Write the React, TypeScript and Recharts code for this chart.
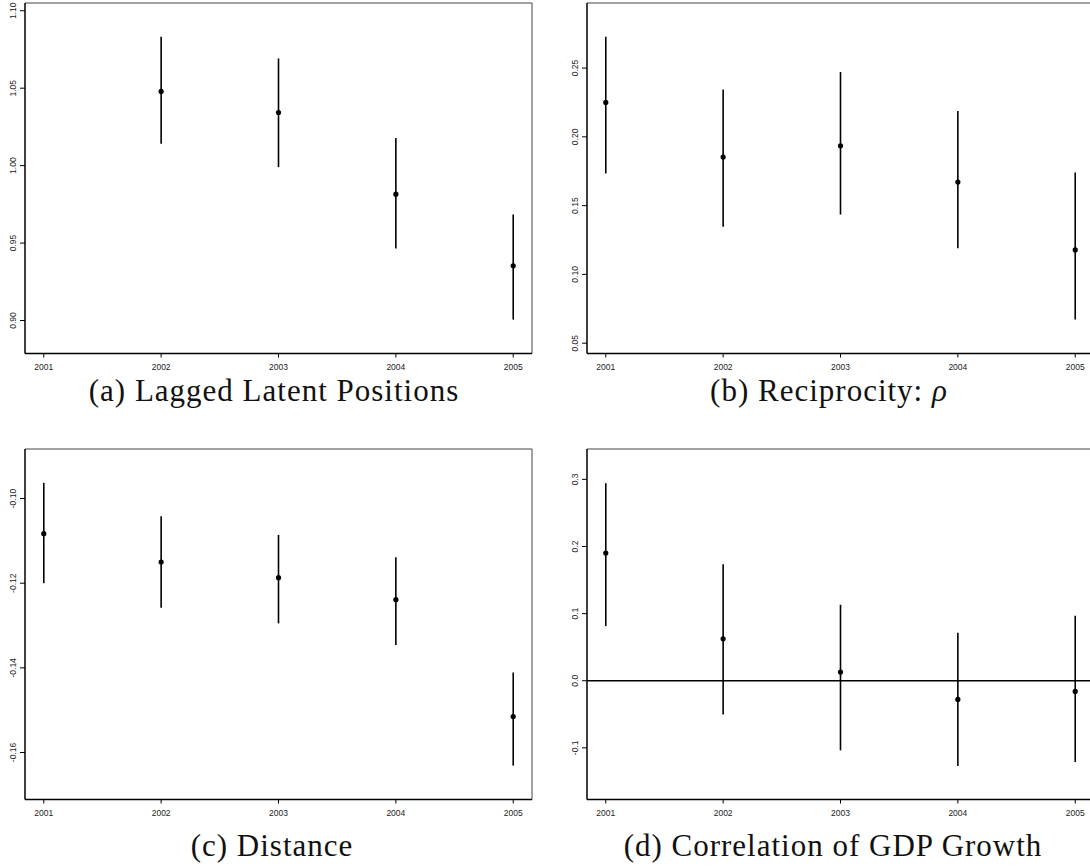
import React from "react";
import {
  ScatterChart,
  Scatter,
  XAxis,
  YAxis,
  ErrorBar,
  ReferenceLine,
} from "recharts";

// ---------- data ----------
const years = [2001, 2002, 2003, 2004, 2005];
const yearLabels = ["2001", "2002", "2003", "2004", "2005"];

// (a) Lagged Latent Positions (no 2001)
const lagYears = [2002, 2003, 2004, 2005];
const lagEst = [1.0479, 1.0343, 0.9816, 0.9353];
const lagLo = [1.0141, 0.999, 0.9465, 0.9006];
const lagHi = [1.0832, 1.0692, 1.0178, 0.9685];
const lagTicks = [0.9, 0.95, 1.0, 1.05, 1.1];
const lagTickLabels = ["0.90", "0.95", "1.00", "1.05", "1.10"];

// (b) Reciprocity
const recEst = [0.225, 0.1853, 0.1935, 0.1671, 0.1178];
const recLo = [0.1734, 0.1346, 0.1435, 0.1191, 0.0672];
const recHi = [0.2728, 0.2345, 0.2471, 0.2187, 0.1741];
const recTicks = [0.05, 0.1, 0.15, 0.2, 0.25];
const recTickLabels = ["0.05", "0.10", "0.15", "0.20", "0.25"];

// (c) Distance
const disEst = [-0.1083, -0.115, -0.1187, -0.1239, -0.1515];
const disLo = [-0.12, -0.1258, -0.1295, -0.1346, -0.1631];
const disHi = [-0.0963, -0.1042, -0.1086, -0.1139, -0.1411];
const disTicks = [-0.16, -0.14, -0.12, -0.1];
const disTickLabels = ["-0.16", "-0.14", "-0.12", "-0.10"];

// (d) Correlation of GDP Growth
const gdpEst = [0.1901, 0.0625, 0.0129, -0.0278, -0.0159];
const gdpLo = [0.0814, -0.0501, -0.1037, -0.127, -0.1211];
const gdpHi = [0.2943, 0.1737, 0.1132, 0.0715, 0.0968];
const gdpTicks = [-0.1, 0.0, 0.1, 0.2, 0.3];
const gdpTickLabels = ["-0.1", "0.0", "0.1", "0.2", "0.3"];

const captions = [
  "(a) Lagged Latent Positions",
  "(b) Reciprocity: ",
  "(c) Distance",
  "(d) Correlation of GDP Growth",
];

// ---------- layout ----------
const X_DOMAIN: [number, number] = [2000.84, 2005.16];
const PLOT_W = 507;
const PLOT_H = 350.5;
const Y_AXIS_W = 25;
const X_AXIS_H = 30;
const TOP_M = 3;
const RIGHT_M = 5;

type PanelProps = {
  xs: number[];
  est: number[];
  lo: number[];
  hi: number[];
  yDomain: [number, number];
  yTicks: number[];
  yLabels: string[];
  left: number;
  top: number;
  zeroLine?: boolean;
};

function Panel(p: PanelProps) {
  const rows = p.xs.map((x, i) => ({
    year: x,
    est: p.est[i],
    err: [p.est[i] - p.lo[i], p.hi[i] - p.est[i]],
  }));
  const yLabelOf = (v: number) => {
    const idx = p.yTicks.findIndex((t) => Math.abs(t - v) < 1e-9);
    return idx >= 0 ? p.yLabels[idx] : String(v);
  };
  const xLabelOf = (v: number) => {
    const idx = years.indexOf(v);
    return idx >= 0 ? yearLabels[idx] : String(v);
  };
  const YTick = (props: any) => {
    const { x, y, payload } = props;
    return (
      <text
        x={x}
        y={y}
        transform={`rotate(-90 ${x} ${y})`}
        textAnchor="middle"
        fontSize={8.5}
        fontFamily="Liberation Sans, Arial, sans-serif"
        fill="#222"
      >
        {yLabelOf(payload.value)}
      </text>
    );
  };
  const XTick = (props: any) => {
    const { x, y, payload } = props;
    return (
      <text
        x={x}
        y={y + 10}
        textAnchor="middle"
        fontSize={8.5}
        fontFamily="Liberation Sans, Arial, sans-serif"
        fill="#222"
      >
        {xLabelOf(payload.value)}
      </text>
    );
  };
  const Dot = (props: any) => (
    <circle cx={props.cx} cy={props.cy} r={2.6} fill="#000" />
  );
  return (
    <div style={{ position: "absolute", left: p.left, top: p.top }}>
      <ScatterChart
        width={Y_AXIS_W + PLOT_W + RIGHT_M}
        height={TOP_M + PLOT_H + X_AXIS_H}
        margin={{ top: TOP_M, right: RIGHT_M, bottom: 0, left: 0 }}
      >
        <XAxis
          type="number"
          dataKey="year"
          domain={X_DOMAIN}
          allowDataOverflow
          ticks={years}
          interval={0}
          height={X_AXIS_H}
          tickSize={4}
          tickMargin={2}
          tick={<XTick />}
          tickLine={{ stroke: "#000", strokeWidth: 1 }}
          axisLine={{ stroke: "#000", strokeWidth: 1.5 }}
        />
        <YAxis
          type="number"
          dataKey="est"
          domain={p.yDomain}
          allowDataOverflow
          ticks={p.yTicks}
          interval={0}
          width={Y_AXIS_W}
          tickSize={5}
          tickMargin={4}
          tick={<YTick />}
          tickLine={{ stroke: "#000", strokeWidth: 1 }}
          axisLine={{ stroke: "#000", strokeWidth: 1.5 }}
        />
        <ReferenceLine
          y={p.yDomain[1]}
          stroke="#444"
          strokeWidth={1}
          ifOverflow="visible"
        />
        <ReferenceLine
          x={X_DOMAIN[1]}
          stroke="#444"
          strokeWidth={1}
          ifOverflow="visible"
        />
        {p.zeroLine ? (
          <ReferenceLine y={0} stroke="#000" strokeWidth={1.3} />
        ) : null}
        <Scatter
          data={rows}
          dataKey="est"
          fill="#000"
          shape={<Dot />}
          isAnimationActive={false}
        >
          <ErrorBar
            dataKey="err"
            direction="y"
            width={0}
            stroke="#000"
            strokeWidth={1.6}
            isAnimationActive={false}
          />
        </Scatter>
      </ScatterChart>
    </div>
  );
}

const LEFT_COL = 25 - Y_AXIS_W;
const RIGHT_COL = 587 - Y_AXIS_W;
const TOP_ROW = 3 - TOP_M;
const BOTTOM_ROW = 448.5 - TOP_M;

export default function App() {
  const capStyle = {
    fontFamily: "'Liberation Serif', 'Times New Roman', serif",
    fontSize: 31,
    letterSpacing: 1,
    fill: "#111",
  } as const;
  return (
    <div
      style={{
        position: "absolute",
        left: 0,
        top: 0,
        width: 1090,
        height: 868,
        overflow: "hidden",
        background: "#fff",
      }}
    >
      <Panel
        xs={lagYears}
        est={lagEst}
        lo={lagLo}
        hi={lagHi}
        yDomain={[0.8787, 1.105]}
        yTicks={lagTicks}
        yLabels={lagTickLabels}
        left={LEFT_COL}
        top={TOP_ROW}
      />
      <Panel
        xs={years}
        est={recEst}
        lo={recLo}
        hi={recHi}
        yDomain={[0.0425, 0.2973]}
        yTicks={recTicks}
        yLabels={recTickLabels}
        left={RIGHT_COL}
        top={TOP_ROW}
      />
      <Panel
        xs={years}
        est={disEst}
        lo={disLo}
        hi={disHi}
        yDomain={[-0.1711, -0.0883]}
        yTicks={disTicks}
        yLabels={disTickLabels}
        left={LEFT_COL}
        top={BOTTOM_ROW}
      />
      <Panel
        xs={years}
        est={gdpEst}
        lo={gdpLo}
        hi={gdpHi}
        yDomain={[-0.1769, 0.3452]}
        yTicks={gdpTicks}
        yLabels={gdpTickLabels}
        left={RIGHT_COL}
        top={BOTTOM_ROW}
        zeroLine
      />
      <svg
        width={1090}
        height={868}
        style={{ position: "absolute", left: 0, top: 0, pointerEvents: "none" }}
      >
        <text x={274} y={401} textAnchor="middle" {...capStyle}>
          {captions[0]}
        </text>
        <text x={829} y={401} textAnchor="middle" {...capStyle}>
          {captions[1]}
          <tspan fontStyle="italic">ρ</tspan>
        </text>
        <text x={272} y={856} textAnchor="middle" {...capStyle}>
          {captions[2]}
        </text>
        <text x={833} y={856} textAnchor="middle" {...capStyle}>
          {captions[3]}
        </text>
      </svg>
    </div>
  );
}
